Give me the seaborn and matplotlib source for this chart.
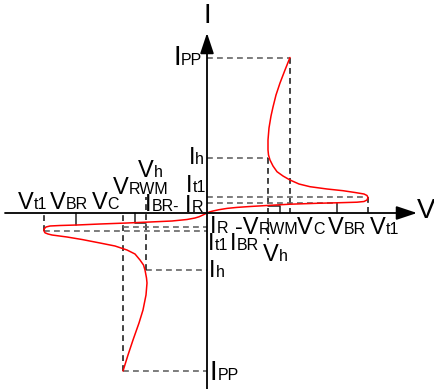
import matplotlib
matplotlib.use('Agg')
import matplotlib.pyplot as plt
import seaborn as sns
from matplotlib.offsetbox import TextArea, HPacker, AnnotationBbox

# I-V curve of a bidirectional TVS diode (arbitrary units, origin = axes crossing)
pos_v = [0, 3, 6, 12, 20, 30, 43, 60, 83, 110, 133, 150, 157, 160, 161, 160, 157, 148,
         136, 120, 103, 92, 83, 76, 70, 66, 63, 61.5, 61, 61, 62, 64, 66, 69, 73, 78, 83]
pos_i = [0, 1.2, 2, 3.3, 4.6, 5.6, 6.5, 7.5, 8.8, 9.7, 10.3, 10.8, 11.5, 13, 15.5, 17.5, 19, 20.5,
         22.3, 24, 26.3, 29, 33, 37, 41.3, 47, 53, 58, 63, 73, 85, 97, 106, 118, 130, 143, 155.5]

neg_v = [0, -4, -8, -12, -20, -35, -57, -80, -107, -130, -147, -157, -161, -163, -163, -162,
         -159, -155, -140, -125, -107, -92, -80, -72, -67, -63.5, -62, -60.5, -60, -61, -64,
         -68, -74, -79, -84]
neg_i = [0, -2, -3.8, -5, -6.5, -8, -9, -10, -11, -12, -12.5, -13, -14, -16, -18, -19.8,
         -21, -22, -24, -26.5, -30, -33, -37, -41, -47, -52, -57, -65, -70, -82, -97,
         -110, -127, -142, -158]

# characteristic points: [Vh, VRWM, VC, VBR, Vt1] and [IR, IBR, It1, Ih, IPP]
v_pos = [61, 73, 83, 130, 161]
i_pos = [7.5, 10.3, 16, 55, 155.5]
v_neg = [-61, -72, -84, -131, -163]
i_neg = [-10, -13.7, -18, -57, -158]

FONT = ['Liberation Sans', 'DejaVu Sans']

sns.set_theme(style='white')
plt.rcParams['font.family'] = FONT

fig = plt.figure(figsize=(4.34, 3.89), dpi=100)
ax = fig.add_axes([0, 0, 1, 1])
ax.set_xlim(-207, 227)
ax.set_ylim(-176, 213)
ax.axis('off')

# axes with arrows
arrow = dict(arrowstyle='-|>,head_length=0.9,head_width=0.3', color='black', lw=1.3,
             mutation_scale=14, shrinkA=0, shrinkB=0)
ax.annotate('', xy=(210, 0), xytext=(-202, 0), arrowprops=arrow)
ax.annotate('', xy=(0, 180), xytext=(0, -176), arrowprops=arrow)

hd = dict(color='#666666', lw=1.2, ls=(0, (3.5, 2.5)))
vd = dict(color='#222222', lw=1.2, ls=(0, (3.5, 2.5)))
solid = dict(color='#222222', lw=1.1)

vh, vrwm, vc, vbr, vt1 = v_pos
ir, ibr, it1, ih, ipp = i_pos
# positive quadrant guides
ax.plot([0, vc], [ipp, ipp], **hd)
ax.plot([vc, vc], [ipp, 0], **vd)
ax.plot([0, vh], [ih, ih], **hd)
ax.plot([vh, vh], [ih, -27], **vd)
ax.plot([0, vt1], [it1, it1], **hd)
ax.plot([vt1, vt1], [it1, 0], **vd)
ax.plot([0, vbr], [ibr, ibr], **hd)
ax.plot([vbr, vbr], [ibr, 0], **solid)
ax.plot([vh, vrwm, vrwm], [ir, ir, 0], **solid)

nvh, nvrwm, nvc, nvbr, nvt1 = v_neg
nir, nibr, nit1, nih, nipp = i_neg
# negative quadrant guides
ax.plot([nvc, 0], [nipp, nipp], **hd)
ax.plot([nvc, nvc], [nipp, 0], **vd)
ax.plot([nvh, 0], [nih, nih], **hd)
ax.plot([nvh, nvh], [nih, 16], **vd)
ax.plot([nvt1, 0], [nit1, nit1], **hd)
ax.plot([nvt1, nvt1], [nit1, 0], **vd)
ax.plot([nvc, 0], [nibr, nibr], **hd)
ax.plot([nvbr, nvbr], [nibr + 2, 0], **solid)
ax.plot([nvh, nvrwm, nvrwm], [nir, nir, 0], **solid)

# the curve
sns.lineplot(x=pos_v, y=pos_i, sort=False, estimator=None, color='red', lw=1.1, ax=ax)
sns.lineplot(x=neg_v, y=neg_i, sort=False, estimator=None, color='red', lw=1.1, ax=ax)


def label(x, y, main, sub='', align=0.0, size=17, sub_size=11.5):
    parts = [TextArea(main, textprops=dict(fontsize=size, family=FONT, color='black'))]
    if sub:
        parts.append(TextArea(sub, textprops=dict(fontsize=sub_size, family=FONT, color='black')))
    box = HPacker(children=parts, align='baseline', pad=0, sep=0)
    ab = AnnotationBbox(box, (x, y), xycoords='data', box_alignment=(align, 0.5),
                        frameon=False, pad=0, annotation_clip=False)
    ax.add_artist(ab)


label(0, 197, 'I', align=0.5, size=20)
label(219, 2, 'V', align=0.5, size=20)

# positive current side (left of the I axis)
label(-5, 155, 'I', 'PP', align=1.0, size=20)
label(-3, 55, 'I', 'h', align=1.0)
label(-1, 27, 'I', 't1', align=1.0)
label(-4, 7, 'I', 'R', align=1.0)
label(-62, 8, 'I', 'BR-', align=0.0)

# negative voltage labels
label(-189, 10, 'V', 't1')
label(-157, 10, 'V', 'BR')
label(-115, 10, 'V', 'C')
label(-94, 25, 'V', 'RWM')
label(-69, 42, 'V', 'h')

# positive voltage labels
label(3, -14, 'I', 'R')
label(28, -15, '-V', 'RWM')
label(90, -15, 'V', 'C')
label(121, -15, 'V', 'BR')
label(163, -15, 'V', 't1')
label(1, -31, 'I', 't1')
label(23, -31, 'I', 'BR')
label(56, -42, 'V', 'h')

# negative current side
label(2, -58, 'I', 'h')
label(3, -160, 'I', 'PP', size=20)

fig.savefig('out.png', dpi=100, facecolor='white')
